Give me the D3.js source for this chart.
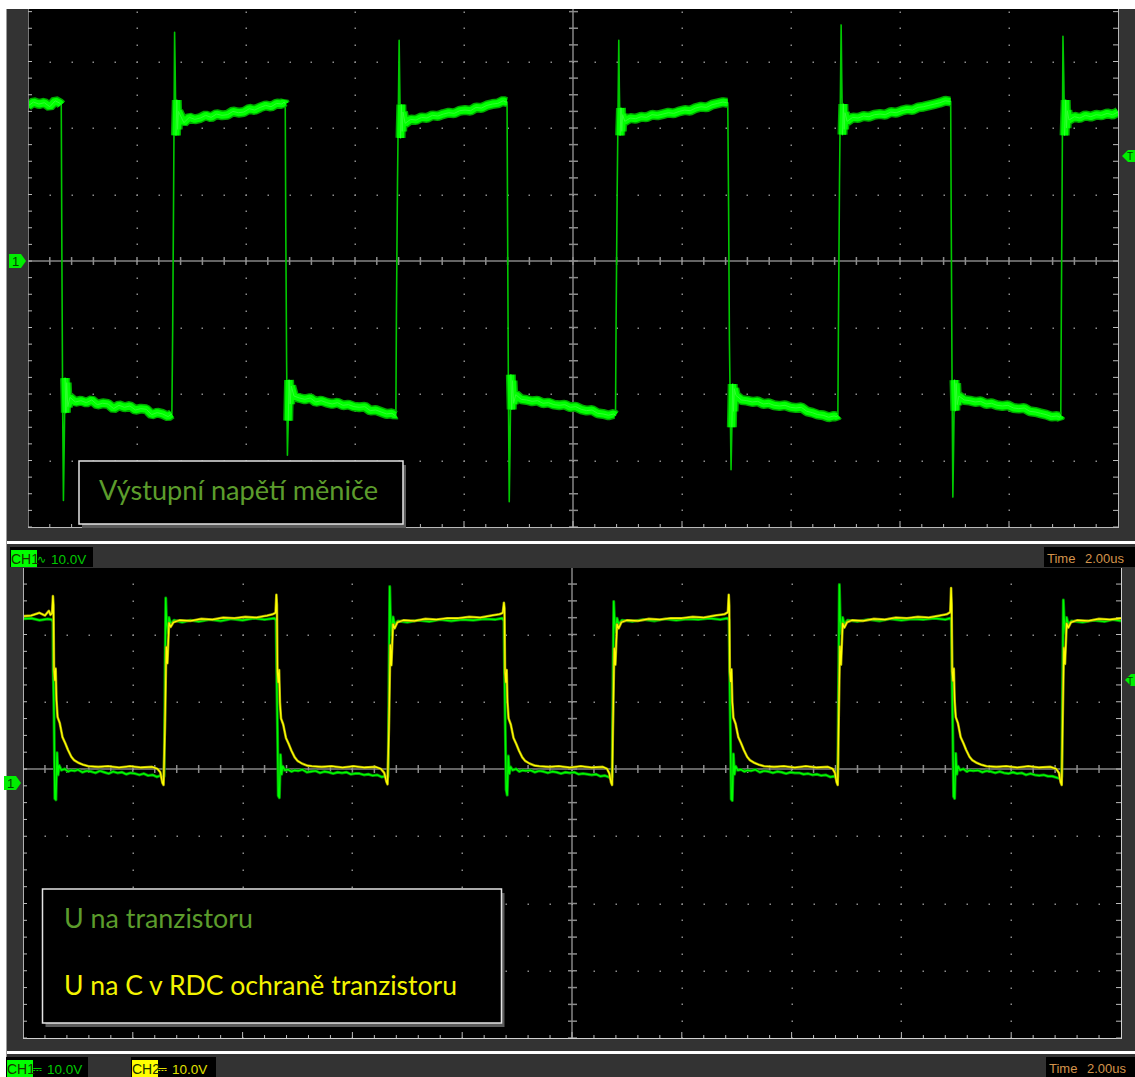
<!DOCTYPE html>
<html>
<head>
<meta charset="utf-8">
<script src="https://cdnjs.cloudflare.com/ajax/libs/d3/7.8.5/d3.min.js"></script>
<style>
body { margin:0; background:#fff; }
svg { display:block; }
</style>
</head>
<body>
<svg></svg>
<script>
// scope settings
let timeDomain = [0, 20];          // us, 10 div x 2.00us
let voltsPerDiv = 10;              // V
let botCenterVolts = 2.08;         // bottom screen: CH1 ground sits below the centre line
let triggerLevels = [15.8, 15.3];  // V, top / bottom screen
let statusTop = ['CH1', '\u223F', '10.0V'];
let statusBotCh1 = ['CH1', '\u2393', '10.0V'];
let statusBotCh2 = ['CH2', '\u2393', '10.0V'];
let timeLabel = ['Time', '2.00us'];
let topCaption = 'Výstupní napětí měniče';
let botCaptions = ['U na tranzistoru', 'U na C v RDC ochraně tranzistoru'];

// top screen, CH1: converter output [t us, V]
let topCh1 = [
  [0,23.3],[0.1,23.9],[0.2,23.6],[0.3,23.8],[0.4,23.2],[0.5,24.1],[0.59,23.7],
  [0.61,23.5],[0.62,4.0],[0.635,-21],[0.65,-36.0],[0.665,-27.4],[0.68,-17.6],[0.695,-22.8],[0.71,-18.3],[0.73,-21.9],
  [0.77,-20.5],[0.87,-21.2],[0.97,-21.0],[1.07,-21.3],[1.17,-20.9],[1.27,-21.6],[1.37,-21.4],[1.47,-21.5],[1.57,-22.2],[1.67,-21.7],
  [1.77,-22.0],[1.87,-21.8],[1.97,-22.4],[2.07,-22.2],[2.17,-22.3],[2.27,-23.1],[2.37,-22.8],[2.47,-23.0],[2.57,-23.4],[2.62,-23.1],
  [2.64,-23.0],[2.655,-10],[2.67,8],[2.69,34.4],[2.70,29],[2.715,18.9],[2.73,24.2],[2.745,19.8],[2.76,22.5],
  [2.86,20.8],[2.96,21.6],[3.06,21.3],[3.16,21.5],[3.26,21.9],[3.36,21.6],[3.46,22.1],[3.56,21.9],[3.66,22.0],[3.76,22.5],
  [3.86,22.3],[3.96,22.4],[4.06,22.9],[4.16,22.7],[4.26,23.1],[4.36,23.4],[4.46,23.2],[4.56,23.7],[4.66,23.6],[4.70,23.9],
  [4.72,23.6],[4.73,5],[4.745,-15],[4.76,-29.2],[4.775,-24],[4.79,-17.9],[4.81,-21.5],[4.83,-18.8],
  [4.88,-20.3],[4.98,-20.6],[5.08,-20.8],[5.18,-20.6],[5.28,-21.2],[5.38,-21.0],[5.48,-21.3],[5.58,-21.5],[5.68,-21.3],[5.78,-21.7],
  [5.88,-21.6],[5.98,-21.9],[6.08,-22.0],[6.18,-21.9],[6.28,-22.5],[6.38,-22.4],[6.48,-22.7],[6.58,-23.0],[6.68,-22.9],[6.73,-23.2],
  [6.75,-23.1],[6.76,-8],[6.78,12],[6.81,33.2],[6.82,27],[6.835,18.5],[6.85,23.5],[6.865,19.5],[6.88,22.4],
  [6.92,20.7],[7.02,21.3],[7.12,21.2],[7.22,21.6],[7.32,21.5],[7.42,21.9],[7.52,21.8],[7.62,22.1],[7.72,22.3],[7.82,22.2],
  [7.92,22.6],[8.02,22.7],[8.12,22.6],[8.22,23.1],[8.32,23.0],[8.42,23.4],[8.52,23.6],[8.62,23.7],[8.72,24.1],[8.77,23.9],
  [8.79,23.9],[8.80,5],[8.815,-20],[8.83,-36.2],[8.845,-28],[8.86,-17.1],[8.875,-22.3],[8.89,-18.0],[8.91,-21.4],
  [8.95,-20.1],[9.05,-20.8],[9.15,-20.9],[9.25,-21.1],[9.35,-21.0],[9.45,-21.4],[9.55,-21.3],[9.65,-21.6],[9.75,-21.7],[9.85,-21.6],
  [9.95,-22.0],[10.05,-21.9],[10.15,-22.3],[10.25,-22.5],[10.35,-22.4],[10.45,-22.9],[10.55,-23.0],[10.65,-23.2],[10.75,-23.0],
  [10.78,-23.2],[10.79,-10],[10.81,10],[10.84,33.2],[10.85,26],[10.865,18.9],[10.88,23.0],[10.895,19.5],[10.91,22.0],
  [10.95,21.0],[11.05,21.5],[11.15,21.4],[11.25,21.7],[11.35,21.6],[11.45,22.0],[11.55,21.9],[11.65,22.1],[11.75,22.3],[11.85,22.2],
  [11.95,22.5],[12.05,22.7],[12.15,22.6],[12.25,23.0],[12.35,23.2],[12.45,23.1],[12.55,23.5],[12.65,23.7],[12.75,23.9],[12.82,23.8],
  [12.84,23.8],[12.855,8],[12.87,-12],[12.90,-31.4],[12.915,-25],[12.93,-18.5],[12.945,-22.6],[12.96,-19.2],
  [12.99,-20.2],[13.09,-20.9],[13.19,-21.0],[13.29,-21.2],[13.39,-21.1],[13.49,-21.5],[13.59,-21.4],[13.69,-21.7],[13.79,-21.8],[13.89,-21.7],
  [13.99,-22.0],[14.09,-22.1],[14.19,-22.0],[14.29,-22.6],[14.39,-22.8],[14.49,-23.1],[14.59,-23.2],[14.69,-23.5],[14.79,-23.3],[14.84,-23.4],
  [14.86,-23.2],[14.87,-10],[14.89,12],[14.92,35.5],[14.93,28],[14.945,19.0],[14.96,23.6],[14.975,19.8],[14.99,22.3],
  [15.03,21.0],[15.13,21.6],[15.23,21.5],[15.33,21.8],[15.43,21.7],[15.53,22.0],[15.63,22.1],[15.73,22.0],[15.83,22.4],[15.93,22.3],
  [16.03,22.6],[16.13,22.8],[16.23,22.7],[16.33,23.1],[16.43,23.2],[16.53,23.4],[16.63,23.6],[16.73,23.8],[16.83,24.1],[16.91,24.0],
  [16.93,24.0],[16.94,6],[16.955,-18],[16.97,-35.5],[16.985,-27],[17.0,-17.9],[17.015,-22.5],[17.03,-18.4],[17.05,-21.6],
  [17.08,-20.3],[17.18,-20.9],[17.28,-21.0],[17.38,-21.2],[17.48,-21.1],[17.58,-21.5],[17.68,-21.4],[17.78,-21.7],[17.88,-21.8],[17.98,-21.7],
  [18.08,-22.1],[18.18,-22.2],[18.28,-22.1],[18.38,-22.6],[18.48,-22.7],[18.58,-22.9],[18.68,-23.1],[18.78,-23.4],[18.88,-23.3],[18.93,-23.5],
  [18.95,-23.2],[18.96,-8],[18.975,12],[18.99,33.8],[19.005,27.5],[19.02,18.9],[19.04,24.2],[19.055,20.0],[19.07,22.6],
  [19.1,21.2],[19.2,21.7],[19.3,21.5],[19.4,21.9],[19.5,21.7],[19.6,22.0],[19.7,21.9],[19.8,22.2],[19.9,22.0],[20.0,22.4]
];

// bottom screen, CH1: voltage on the transistor [t us, V]
let botCh1 = [
  [0,24.4],[0.15,24.5],[0.3,24.2],[0.45,24.4],[0.52,24.3],
  [0.545,24.0],[0.55,16.8],[0.565,10],[0.58,-2.3],[0.60,-2.5],[0.62,4.5],[0.64,1.2],[0.66,2.6],
  [0.70,1.9],[0.76,2.1],[0.82,1.7],[0.88,1.9],[0.94,1.8],[1.00,2.0],[1.08,1.6],[1.16,1.8],[1.24,1.7],[1.32,1.5],[1.40,1.8],[1.48,1.6],
  [1.56,1.4],[1.64,1.7],[1.72,1.5],[1.80,1.6],[1.88,1.3],[1.96,1.5],[2.04,1.4],[2.12,1.2],[2.20,1.4],[2.28,1.1],[2.36,1.2],[2.44,0.9],[2.50,1.1],[2.55,0.7],
  [2.57,1.0],[2.585,14],[2.60,27.5],[2.615,24.0],[2.64,22.3],[2.66,24.6],[2.69,23.6],
  [2.75,24.2],[2.9,23.9],[3.05,24.2],[3.2,24.0],[3.4,24.3],[3.6,24.1],[3.8,24.4],[4.0,24.2],[4.2,24.5],[4.4,24.3],[4.58,24.5],
  [4.61,24.2],[4.62,17],[4.635,8],[4.65,-1.9],[4.67,-2.2],[4.69,4.2],[4.71,1.3],[4.73,2.5],
  [4.77,1.9],[4.83,2.0],[4.89,1.7],[4.95,1.9],[5.01,1.8],[5.09,2.0],[5.17,1.6],[5.25,1.7],[5.33,1.8],[5.41,1.5],[5.49,1.7],[5.57,1.6],
  [5.65,1.4],[5.73,1.6],[5.81,1.5],[5.89,1.6],[5.97,1.3],[6.05,1.4],[6.13,1.4],[6.21,1.2],[6.29,1.3],[6.37,1.1],[6.45,1.2],[6.53,0.9],[6.60,1.0],[6.64,0.7],
  [6.65,1.0],[6.665,15],[6.68,29.2],[6.695,24.5],[6.72,22.0],[6.74,24.7],[6.77,23.5],
  [6.83,24.1],[7.0,23.9],[7.2,24.2],[7.4,24.0],[7.6,24.3],[7.8,24.1],[8.0,24.3],[8.2,24.2],[8.4,24.4],[8.6,24.3],[8.73,24.5],
  [8.76,24.1],[8.77,17],[8.785,8],[8.80,-1.0],[8.82,-1.8],[8.84,4.0],[8.86,1.4],[8.88,2.4],
  [8.92,1.9],[8.98,2.1],[9.04,1.7],[9.10,1.9],[9.16,1.8],[9.24,1.9],[9.32,1.6],[9.40,1.8],[9.48,1.7],[9.56,1.5],[9.64,1.7],[9.72,1.6],
  [9.80,1.4],[9.88,1.6],[9.96,1.5],[10.04,1.6],[10.12,1.3],[10.20,1.4],[10.28,1.3],[10.36,1.2],[10.44,1.3],[10.52,1.0],[10.60,1.1],[10.66,0.9],[10.71,0.7],
  [10.73,0.9],[10.745,14],[10.76,27.0],[10.775,24.2],[10.80,22.4],[10.82,24.5],[10.85,23.6],
  [10.91,24.2],[11.1,24.0],[11.3,24.3],[11.5,24.1],[11.7,24.4],[11.9,24.2],[12.1,24.4],[12.3,24.3],[12.5,24.5],[12.7,24.3],[12.83,24.5],
  [12.86,24.2],[12.87,17],[12.885,8],[12.90,-2.4],[12.92,-2.6],[12.94,4.3],[12.96,1.3],[12.98,2.5],
  [13.02,1.9],[13.08,2.0],[13.14,1.7],[13.20,1.9],[13.26,1.8],[13.34,2.0],[13.42,1.6],[13.50,1.8],[13.58,1.7],[13.66,1.5],[13.74,1.7],[13.82,1.6],
  [13.90,1.4],[13.98,1.6],[14.06,1.5],[14.14,1.5],[14.22,1.3],[14.30,1.4],[14.38,1.2],[14.46,1.3],[14.54,1.1],[14.62,1.2],[14.70,0.9],[14.78,1.0],[14.83,0.6],
  [14.84,0.9],[14.855,15],[14.87,29.5],[14.885,24.6],[14.91,22.2],[14.93,24.6],[14.96,23.6],
  [15.02,24.2],[15.2,24.0],[15.4,24.3],[15.6,24.1],[15.8,24.4],[16.0,24.2],[16.2,24.4],[16.4,24.3],[16.6,24.5],[16.8,24.3],[16.89,24.5],
  [16.91,24.2],[16.92,17],[16.935,8],[16.95,-2.0],[16.97,-2.3],[16.99,4.4],[17.01,1.3],[17.03,2.5],
  [17.07,1.9],[17.13,2.1],[17.19,1.7],[17.25,1.9],[17.31,1.8],[17.39,1.9],[17.47,1.6],[17.55,1.8],[17.63,1.7],[17.71,1.5],[17.79,1.7],[17.87,1.5],
  [17.95,1.4],[18.03,1.6],[18.11,1.4],[18.19,1.5],[18.27,1.2],[18.35,1.4],[18.43,1.2],[18.51,1.1],[18.59,1.2],[18.67,1.0],[18.75,1.0],[18.83,0.8],[18.90,0.6],
  [18.92,0.9],[18.935,14],[18.95,27.2],[18.965,24.3],[18.99,22.3],[19.01,24.6],[19.04,23.6],
  [19.1,24.1],[19.3,23.9],[19.5,24.2],[19.7,24.0],[19.85,24.3],[20.0,24.1]
];

// bottom screen, CH2: voltage on C of the RDC snubber [t us, V]
let botCh2 = [
  [0,24.8],[0.15,24.9],[0.3,25.3],[0.4,24.9],[0.47,25.6],[0.5,25.0],
  [0.53,25.2],[0.545,27.8],[0.555,26.5],[0.565,16.8],[0.58,15.3],[0.595,17.0],[0.61,12.3],[0.63,9.8],[0.67,8.9],[0.72,6.8],
  [0.77,5.9],[0.82,4.9],[0.88,3.9],[0.93,3.4],[1.01,3.0],[1.10,2.7],[1.19,2.5],[1.37,2.4],
  [1.55,2.5],[1.75,2.3],[1.95,2.5],[2.15,2.3],[2.35,2.4],[2.45,2.1],[2.50,1.6],[2.54,0.0],[2.56,-0.3],
  [2.585,8],[2.61,20.2],[2.63,17.8],[2.66,23.8],[2.69,23.2],[2.74,23.9],
  [2.85,24.2],[3.05,24.1],[3.25,24.4],[3.45,24.3],[3.65,24.6],[3.85,24.5],[4.05,24.7],[4.25,24.6],[4.45,24.9],[4.55,25.1],
  [4.60,25.3],[4.615,28.0],[4.625,26.5],[4.635,16.5],[4.65,15.0],[4.665,16.8],[4.68,12.0],[4.70,9.6],[4.74,8.7],[4.79,6.7],
  [4.84,5.8],[4.89,4.8],[4.95,3.8],[5.00,3.3],[5.08,2.9],[5.17,2.6],[5.26,2.5],[5.44,2.4],
  [5.62,2.5],[5.82,2.3],[6.02,2.5],[6.22,2.3],[6.42,2.4],[6.52,2.1],[6.58,1.5],[6.62,0.2],[6.64,-0.2],
  [6.665,8],[6.69,20.5],[6.71,17.5],[6.74,23.6],[6.77,23.0],[6.82,23.9],
  [6.93,24.2],[7.13,24.1],[7.33,24.4],[7.53,24.3],[7.73,24.5],[7.93,24.5],[8.13,24.7],[8.33,24.6],[8.53,24.9],[8.68,25.1],
  [8.74,25.3],[8.76,26.8],[8.77,26.0],[8.78,16.5],[8.795,15.0],[8.81,16.8],[8.825,12.0],[8.845,9.6],[8.885,8.7],[8.935,6.7],
  [8.985,5.8],[9.035,4.8],[9.095,3.8],[9.145,3.3],[9.225,2.9],[9.315,2.6],[9.405,2.5],[9.585,2.4],
  [9.76,2.5],[9.96,2.3],[10.16,2.5],[10.36,2.3],[10.56,2.4],[10.64,2.1],[10.68,1.4],[10.71,0.1],[10.73,-0.3],
  [10.745,8],[10.77,20.0],[10.79,17.6],[10.82,23.6],[10.85,23.0],[10.9,23.9],
  [11.0,24.2],[11.2,24.1],[11.4,24.4],[11.6,24.3],[11.8,24.5],[12.0,24.5],[12.2,24.7],[12.4,24.6],[12.6,24.9],[12.78,25.1],
  [12.84,25.4],[12.855,28.0],[12.865,26.3],[12.875,16.6],[12.89,15.1],[12.905,16.9],[12.92,12.1],[12.94,9.7],[12.98,8.8],[13.03,6.8],
  [13.08,5.9],[13.13,4.9],[13.19,3.9],[13.24,3.4],[13.32,3.0],[13.41,2.7],[13.5,2.5],[13.68,2.4],
  [13.86,2.5],[14.06,2.3],[14.26,2.5],[14.46,2.3],[14.66,2.4],[14.75,2.1],[14.79,1.5],[14.82,0.1],[14.84,-0.3],
  [14.855,8],[14.88,20.3],[14.90,17.6],[14.93,23.7],[14.96,23.1],[15.01,23.9],
  [15.1,24.2],[15.3,24.1],[15.5,24.4],[15.7,24.3],[15.9,24.6],[16.1,24.5],[16.3,24.7],[16.5,24.6],[16.7,24.9],[16.83,25.1],
  [16.89,25.4],[16.905,29.0],[16.915,26.5],[16.925,16.6],[16.94,15.2],[16.955,17.0],[16.97,12.2],[16.99,9.8],[17.03,8.9],[17.08,6.8],
  [17.13,5.9],[17.18,4.9],[17.24,3.9],[17.29,3.4],[17.37,3.0],[17.46,2.7],[17.55,2.5],[17.73,2.4],
  [17.91,2.5],[18.11,2.3],[18.31,2.5],[18.51,2.3],[18.71,2.4],[18.82,2.1],[18.87,1.5],[18.90,0.1],[18.92,-0.3],
  [18.935,8],[18.96,20.1],[18.98,17.7],[19.01,23.7],[19.04,23.1],[19.09,23.9],
  [19.2,24.2],[19.4,24.1],[19.6,24.4],[19.8,24.3],[20.0,24.5]
];

var svgWidth = 1135, svgHeight = 1077;
var svg = d3.select('svg').attr('width', svgWidth).attr('height', svgHeight);
var frameGray = '#333333';

// the two screenshots: screen frame, separators, status rows
svg.append('rect').attr('x', 6).attr('y', 9).attr('width', svgWidth - 6).attr('height', 532).attr('fill', frameGray);
svg.append('rect').attr('x', 6).attr('y', 544).attr('width', svgWidth - 6).attr('height', 507).attr('fill', frameGray);
svg.append('rect').attr('x', 6).attr('y', 1054).attr('width', svgWidth - 6).attr('height', 23).attr('fill', frameGray);
svg.append('line').attr('x1', 6.5).attr('x2', 6.5).attr('y1', 9).attr('y2', 1077).attr('stroke', '#9a9a9a');

var panels = [
  {id: 'top', x0: 28, x1: 1118, y0: 9, y1: 527, cy: 261, dy: 66.5, centerV: 0, edge: '#b8b8b8', left: '#777'},
  {id: 'bot', x0: 23, x1: 1121, y0: 568, y1: 1038, cy: 769, dy: 67.25, centerV: botCenterVolts, edge: '#d0d0d0', left: '#b0b0b0'}
];

panels.forEach(p => {
  p.x = d3.scaleLinear().domain(timeDomain).range([p.x0, p.x1]);
  p.y = d3.scaleLinear().domain([p.centerV - 4 * voltsPerDiv, p.centerV + 4 * voltsPerDiv]).range([p.cy + 4 * p.dy, p.cy - 4 * p.dy]);
  p.gx = d3.scaleLinear().domain([0, 10]).range([p.x0, p.x1]);
  p.gy = d3.scaleLinear().domain([-4, 4]).range([p.cy + 4 * p.dy, p.cy - 4 * p.dy]);
  drawScreen(p);
});

function drawScreen(p) {
  let g = svg.append('g');
  let inY = v => p.gy(v) >= p.y0 - 0.5 && p.gy(v) <= p.y1 + 0.5;
  g.append('rect').attr('x', p.x0).attr('y', p.y0).attr('width', p.x1 - p.x0).attr('height', p.y1 - p.y0).attr('fill', '#000');

  // dotted graticule
  let dots = [];
  d3.range(1, 10).filter(k => k !== 5).forEach(k => {
    d3.range(-16, 17).forEach(j => { if (inY(j / 4)) dots.push([p.gx(k), p.gy(j / 4)]); });
  });
  d3.range(-3, 4).filter(m => m !== 0).forEach(m => {
    if (inY(m)) d3.range(1, 50).forEach(i => dots.push([p.gx(i / 5), p.gy(m)]));
  });
  g.selectAll('rect.dot').data(dots).enter().append('rect').attr('class', 'dot')
    .attr('x', d => Math.round(d[0]) - 0.5).attr('y', d => Math.round(d[1]) - 0.5)
    .attr('width', 1.5).attr('height', 1.5).attr('fill', '#8c8c8c');

  // centre cross with ticks
  let cx = p.gx(5), cy = p.gy(0);
  g.append('line').attr('x1', p.x0).attr('x2', p.x1).attr('y1', cy).attr('y2', cy).attr('stroke', '#c8c8c8');
  g.append('line').attr('x1', cx).attr('x2', cx).attr('y1', p.y0).attr('y2', p.y1).attr('stroke', '#c8c8c8');
  let vTicks = d3.range(-16, 17).map(j => j / 4).filter(inY);
  let hTicks = d3.range(1, 50).map(i => i / 5);
  g.selectAll('line.vt').data(vTicks).enter().append('line').attr('class', 'vt')
    .attr('x1', cx - 4).attr('x2', cx + 5).attr('y1', d => p.gy(d)).attr('y2', d => p.gy(d))
    .attr('stroke', '#8c8c8c').attr('stroke-width', 1.5);
  g.selectAll('line.ht').data(hTicks).enter().append('line').attr('class', 'ht')
    .attr('x1', d => p.gx(d)).attr('x2', d => p.gx(d)).attr('y1', cy - 4).attr('y2', cy + 4)
    .attr('stroke', '#8c8c8c').attr('stroke-width', 1.5);

  // frame edges with ticks
  g.append('line').attr('x1', p.x0 + 0.5).attr('x2', p.x0 + 0.5).attr('y1', p.y0).attr('y2', p.y1).attr('stroke', p.left);
  g.append('line').attr('x1', p.x1 + 0.5).attr('x2', p.x1 + 0.5).attr('y1', p.y0).attr('y2', p.y1 + 1).attr('stroke', p.edge);
  g.append('line').attr('x1', p.x0).attr('x2', p.x1 + 1).attr('y1', p.y1 + 0.5).attr('y2', p.y1 + 0.5).attr('stroke', p.edge);
  g.selectAll('line.lt').data(vTicks).enter().append('line').attr('class', 'lt')
    .attr('x1', p.x0).attr('x2', p.x0 + 4).attr('y1', d => p.gy(d)).attr('y2', d => p.gy(d)).attr('stroke', '#bbb');
  g.selectAll('line.rt').data(vTicks).enter().append('line').attr('class', 'rt')
    .attr('x1', p.x1 - 5).attr('x2', p.x1).attr('y1', d => p.gy(d)).attr('y2', d => p.gy(d)).attr('stroke', '#bbb');
  g.selectAll('line.bt').data(hTicks).enter().append('line').attr('class', 'bt')
    .attr('x1', d => p.gx(d)).attr('x2', d => p.gx(d))
    .attr('y1', (d, i) => p.y1 - ((i + 1) % 5 === 0 ? 6 : 3)).attr('y2', p.y1).attr('stroke', '#bbb');

  svg.append('clipPath').attr('id', 'clip-' + p.id).append('rect')
    .attr('x', p.x0 + 1).attr('y', p.y0).attr('width', p.x1 - p.x0 - 1).attr('height', p.y1 - p.y0);
}

function drawTrace(p, data, layers) {
  let g = svg.append('g').attr('clip-path', 'url(#clip-' + p.id + ')');
  layers.forEach(l => {
    let line = d3.line().x(d => p.x(d[0])).y(d => p.y(d[1]));
    if (l.defined) line.defined(l.defined);
    g.append('path').attr('d', line(data)).attr('fill', 'none')
      .attr('stroke', l.color).attr('stroke-width', l.width)
      .attr('stroke-linejoin', l.join || 'round').attr('stroke-linecap', 'butt');
  });
}

let plateau = d => Math.abs(d[1]) > 16 && Math.abs(d[1]) < 26;
drawTrace(panels[0], topCh1, [
  {color: '#00c800', width: 1.6},
  {color: '#00a800', width: 10, defined: plateau, join: 'bevel'},
  {color: '#00ff00', width: 7, defined: plateau, join: 'bevel'},
  {color: '#30ff30', width: 1, defined: plateau, join: 'miter'}
]);
drawTrace(panels[1], botCh1, [
  {color: '#009000', width: 3},
  {color: '#00ff00', width: 1.4}
]);
drawTrace(panels[1], botCh2, [
  {color: '#9a9a00', width: 2.6},
  {color: '#ffff00', width: 1.3}
]);

// channel ground markers and trigger markers
panels.forEach((p, i) => {
  let gy = p.y(0), lx = p.x0 - 19;
  svg.append('path').attr('d', `M${lx},${gy - 7}H${lx + 12}L${lx + 17},${gy}L${lx + 12},${gy + 7}H${lx}Z`).attr('fill', '#00ee00');
  svg.append('text').attr('x', lx + 3).attr('y', gy + 5).text('1')
    .attr('font-family', 'Liberation Sans').attr('font-size', 13).attr('fill', '#004400');
  let ty = p.y(triggerLevels[i]), tx = p.x1 + 4;
  svg.append('path').attr('d', `M${svgWidth},${ty - 6}H${tx + 6}L${tx},${ty}L${tx + 6},${ty + 6}H${svgWidth}Z`).attr('fill', '#00ee00');
  svg.append('text').attr('x', Math.min(tx + 6, svgWidth - 8)).attr('y', ty + 4.5).text('T')
    .attr('font-family', 'Liberation Sans').attr('font-size', 10).attr('fill', '#004400');
});

// caption boxes
function captionBox(x, y, w, h) {
  svg.append('rect').attr('x', x + 3).attr('y', y + 4).attr('width', w).attr('height', h).attr('fill', '#5a5a5a');
  svg.append('rect').attr('x', x).attr('y', y).attr('width', w).attr('height', h)
    .attr('fill', '#000').attr('stroke', '#e4e4e4').attr('stroke-width', 1.5);
}
function caption(x, y, str, color, len) {
  svg.append('text').attr('x', x).attr('y', y).text(str)
    .attr('font-family', 'Lato, "Open Sans", sans-serif').attr('font-size', 26).attr('fill', color)
    .attr('textLength', len).attr('lengthAdjust', 'spacingAndGlyphs');
}
captionBox(79, 461, 324, 63);
caption(99, 500, topCaption, '#5c9c2c', 279);
captionBox(42.5, 889, 459, 134);
caption(64, 928, botCaptions[0], '#5c9c2c', 189);
caption(64, 995, botCaptions[1], '#f4f400', 393);

// status rows
function statusBox(x, y, w, h, labels, bg, fg) {
  svg.append('rect').attr('x', x).attr('y', y).attr('width', w).attr('height', h).attr('fill', '#000');
  svg.append('rect').attr('x', x + 1).attr('y', y + 3).attr('width', 26).attr('height', h - 3).attr('fill', bg);
  svg.append('text').attr('x', x + 1).attr('y', y + h - 3).text(labels[0])
    .attr('font-family', 'Liberation Sans').attr('font-size', 14).attr('fill', '#1a3300');
  svg.append('text').attr('x', x + 27).attr('y', y + h - 4).text(labels[1])
    .attr('font-family', 'DejaVu Sans').attr('font-size', 11).attr('fill', fg);
  svg.append('text').attr('x', x + 41).attr('y', y + h - 3).text(labels[2])
    .attr('font-family', 'Liberation Sans').attr('font-size', 13.5).attr('fill', fg);
}
function timeBox(x, y, w, h) {
  svg.append('rect').attr('x', x).attr('y', y).attr('width', w).attr('height', h).attr('fill', '#000');
  svg.append('text').attr('x', x + 3).attr('y', y + h - 4).text(timeLabel[0])
    .attr('font-family', 'Liberation Sans').attr('font-size', 13).attr('fill', '#d4944c');
  svg.append('text').attr('x', x + 41).attr('y', y + h - 4).text(timeLabel[1])
    .attr('font-family', 'Liberation Sans').attr('font-size', 13).attr('fill', '#d4944c');
}
statusBox(10, 547, 83, 20, statusTop, '#00ff00', '#00c800');
timeBox(1044, 547, 91, 20);
statusBox(6, 1057, 82, 20, statusBotCh1, '#00ff00', '#00c800');
statusBox(131, 1057, 85, 20, statusBotCh2, '#ffff00', '#e0e000');
timeBox(1046, 1057, 89, 20);
</script>
</body>
</html>
